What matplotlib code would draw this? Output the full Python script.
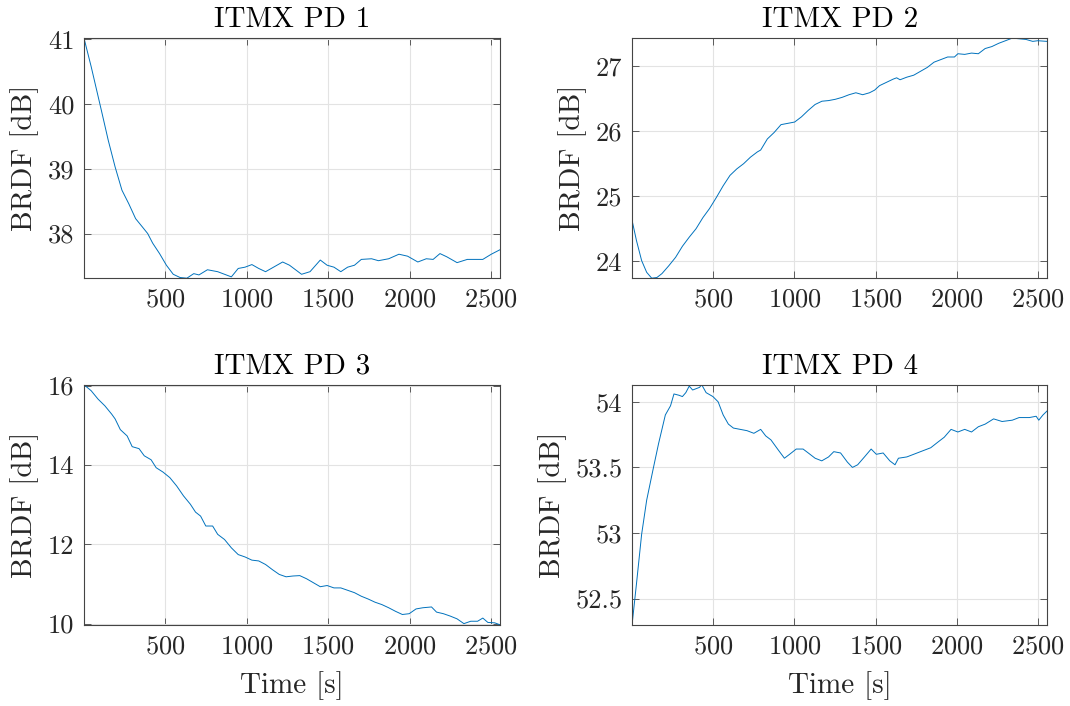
import numpy as np
import matplotlib
matplotlib.use("Agg")
import matplotlib.pyplot as plt
from matplotlib.ticker import FormatStrFormatter

plt.rcParams['font.family'] = 'cmr10'
plt.rcParams['mathtext.fontset'] = 'cm'
plt.rcParams['axes.formatter.use_mathtext'] = True

# values
t1 = [0, 44, 107, 149, 191, 233, 275, 317, 359, 391, 422, 464, 506, 548, 590, 632, 674, 706,
      758, 821, 863, 905, 947, 989, 1031, 1073, 1115, 1157, 1220, 1262, 1336, 1388, 1451, 1493,
      1535, 1577, 1619, 1661, 1703, 1766, 1808, 1871, 1934, 1987, 2050, 2102, 2144, 2186, 2228,
      2291, 2354, 2449, 2501, 2555]
pd1 = [41.02, 40.58, 39.90, 39.44, 39.03, 38.67, 38.46, 38.23, 38.10, 38.00, 37.85, 37.69, 37.51,
       37.37, 37.32, 37.31, 37.38, 37.36, 37.44, 37.41, 37.37, 37.33, 37.46, 37.48, 37.52, 37.46,
       37.41, 37.47, 37.56, 37.51, 37.37, 37.41, 37.59, 37.51, 37.48, 37.41, 37.48, 37.51, 37.60,
       37.61, 37.58, 37.61, 37.68, 37.65, 37.56, 37.61, 37.60, 37.69, 37.64, 37.55, 37.60, 37.60,
       37.68, 37.75]

t2 = [0, 27, 59, 90, 121, 153, 184, 226, 268, 310, 352, 394, 436, 477, 519, 561, 603, 645, 687,
      729, 771, 792, 833, 875, 917, 959, 1001, 1043, 1085, 1127, 1169, 1210, 1252, 1294, 1336,
      1378, 1420, 1462, 1493, 1524, 1566, 1608, 1629, 1650, 1692, 1734, 1776, 1818, 1859, 1901,
      1943, 1985, 2006, 2048, 2090, 2132, 2174, 2215, 2257, 2299, 2341, 2383, 2425, 2467, 2498, 2555]
pd2 = [24.63, 24.32, 24.01, 23.83, 23.74, 23.75, 23.81, 23.93, 24.06, 24.23, 24.37, 24.50, 24.67,
       24.81, 24.98, 25.16, 25.32, 25.42, 25.50, 25.60, 25.68, 25.71, 25.88, 25.98, 26.10, 26.12,
       26.14, 26.22, 26.32, 26.41, 26.46, 26.47, 26.49, 26.52, 26.56, 26.59, 26.56, 26.59, 26.63,
       26.70, 26.75, 26.80, 26.82, 26.79, 26.83, 26.86, 26.92, 26.98, 27.06, 27.10, 27.14, 27.14,
       27.19, 27.18, 27.20, 27.19, 27.27, 27.30, 27.35, 27.39, 27.43, 27.42, 27.41, 27.38, 27.39,
       27.38]

t3 = [0, 44, 86, 128, 170, 191, 223, 265, 296, 338, 370, 412, 443, 485, 527, 569, 611, 653, 685,
      716, 748, 790, 821, 863, 905, 947, 989, 1031, 1073, 1115, 1157, 1199, 1241, 1283, 1325, 1367,
      1409, 1451, 1493, 1535, 1577, 1619, 1661, 1703, 1745, 1787, 1829, 1871, 1913, 1955, 1997,
      2039, 2081, 2134, 2165, 2207, 2249, 2291, 2333, 2375, 2417, 2449, 2480, 2522, 2555]
pd3 = [16.02, 15.87, 15.66, 15.49, 15.28, 15.16, 14.89, 14.73, 14.46, 14.41, 14.23, 14.13, 13.93,
       13.82, 13.68, 13.47, 13.22, 13.01, 12.81, 12.71, 12.46, 12.46, 12.25, 12.12, 11.91, 11.74,
       11.68, 11.60, 11.58, 11.49, 11.36, 11.24, 11.18, 11.20, 11.21, 11.13, 11.03, 10.93, 10.96,
       10.90, 10.90, 10.84, 10.78, 10.69, 10.62, 10.54, 10.48, 10.40, 10.31, 10.23, 10.25, 10.37,
       10.40, 10.42, 10.29, 10.25, 10.19, 10.12, 10.00, 10.06, 10.06, 10.14, 10.03, 10.02, 9.97]

t4 = [0, 27, 59, 90, 132, 163, 205, 237, 258, 289, 310, 331, 352, 373, 415, 429, 456, 498, 530,
      561, 593, 624, 666, 708, 750, 792, 823, 855, 896, 938, 970, 1011, 1053, 1085, 1127, 1168,
      1210, 1242, 1284, 1326, 1357, 1389, 1431, 1472, 1504, 1546, 1587, 1619, 1640, 1692, 1734,
      1797, 1839, 1880, 1922, 1964, 2006, 2048, 2090, 2132, 2174, 2226, 2278, 2341, 2383, 2446,
      2488, 2504, 2530, 2555]
pd4 = [52.30, 52.61, 52.99, 53.25, 53.50, 53.68, 53.90, 53.97, 54.06, 54.05, 54.04, 54.07, 54.12,
       54.09, 54.11, 54.13, 54.07, 54.04, 54.00, 53.90, 53.83, 53.80, 53.79, 53.78, 53.76, 53.79,
       53.74, 53.71, 53.64, 53.57, 53.60, 53.64, 53.64, 53.61, 53.57, 53.55, 53.58, 53.62, 53.61,
       53.54, 53.50, 53.52, 53.58, 53.64, 53.60, 53.61, 53.55, 53.52, 53.57, 53.58, 53.60, 53.63,
       53.65, 53.69, 53.73, 53.79, 53.77, 53.79, 53.77, 53.81, 53.83, 53.87, 53.85, 53.86, 53.88,
       53.88, 53.89, 53.86, 53.90, 53.93]

titles = ['ITMX PD 1', 'ITMX PD 2', 'ITMX PD 3', 'ITMX PD 4']
yticks = [[38, 39, 40, 41], [24, 25, 26, 27], [10, 12, 14, 16], [52.5, 53, 53.5, 54]]
xticks = [500, 1000, 1500, 2000, 2500]

series = [(t1, pd1), (t2, pd2), (t3, pd3), (t4, pd4)]

fig = plt.figure(figsize=(10.7, 7.06), dpi=100)
# axes boxes in figure fractions (left, bottom, width, height)
pos = [[0.0785, 0.606, 0.389, 0.340], [0.5907, 0.606, 0.388, 0.340],
       [0.0785, 0.115, 0.389, 0.340], [0.5907, 0.115, 0.388, 0.340]]

dark = '#262626'
for i in range(4):
    ax = fig.add_axes(pos[i])
    t, y = series[i]
    ax.plot(t, y, color='#0072BD', lw=0.7)
    ax.set_xlim(0, 2556)
    ax.set_ylim(min(y), max(y))
    ax.set_xticks(xticks)
    ax.set_yticks(yticks[i])
    ax.yaxis.set_major_formatter(FormatStrFormatter('%g'))
    ax.grid(True, color='#e3e3e3', lw=0.8)
    ax.set_axisbelow(True)
    ax.tick_params(direction='in', top=True, right=True, length=5, width=0.6,
                   colors='#444444', labelsize=19, labelcolor=dark, pad=7)
    for s in ax.spines.values():
        s.set_color('#444444')
        s.set_linewidth(0.8)
    ax.set_title(titles[i], fontsize=21, color='black', pad=8)
    ax.set_ylabel('BRDF [dB]', fontsize=21, color=dark, labelpad=6)
    if i >= 2:
        ax.set_xlabel('Time [s]', fontsize=21, color=dark, labelpad=9)

fig.savefig('out.png', dpi=100)
